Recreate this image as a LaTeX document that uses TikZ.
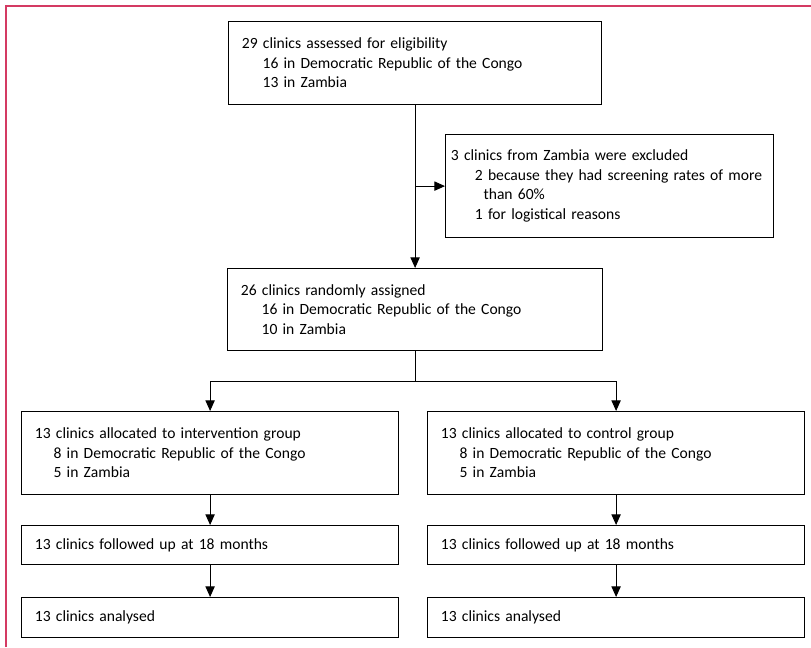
\documentclass[tikz,border=0pt]{standalone}
\usepackage{fontspec}
\setmainfont{Carlito}
\usetikzlibrary{arrows.meta}
\definecolor{framepink}{HTML}{D43A63}

\begin{document}
\begin{tikzpicture}[x=0.75pt, y=-0.75pt,
        box/.style = {draw, line width=0.9pt, anchor=north west, align=left, inner xsep=10pt, inner ysep=0pt,
                      font=\fontsize{11.7}{14.6}\selectfont},
        link/.style = {line width=0.7pt, -{Triangle[length=8pt, width=7pt]}}]
        \useasboundingbox (0,0) rectangle (811,647);
        \draw[framepink, line width=1.1pt] (6,647) -- (6,6) -- (811,6);
        \node[box, text width=259.75pt, minimum height=62.25pt] (assessed) at (228,21)
            {29 clinics assessed for eligibility\\\hspace*{15.5pt}16 in Democratic Republic of the Congo\\\hspace*{15.5pt}13 in Zambia};
        \node[box, inner xsep=4pt, text width=238pt, minimum height=77.25pt] (excluded) at (445,134)
            {3 clinics from Zambia were excluded\\\hspace*{18pt}2 because they had screening rates of more\\\hspace*{24.5pt}than 60\%\\\hspace*{18pt}1 for logistical reasons};
        \node[box, text width=261.25pt, minimum height=61.5pt] (assigned) at (227,268)
            {26 clinics randomly assigned\\\hspace*{15.5pt}16 in Democratic Republic of the Congo\\\hspace*{15.5pt}10 in Zambia};
        \node[box, text width=262.75pt, minimum height=62.25pt] (interv) at (21,411)
            {13 clinics allocated to intervention group\\\hspace*{14pt}8 in Democratic Republic of the Congo\\\hspace*{14pt}5 in Zambia};
        \node[box, text width=262.75pt, minimum height=62.25pt] (control) at (427,411)
            {13 clinics allocated to control group\\\hspace*{14pt}8 in Democratic Republic of the Congo\\\hspace*{14pt}5 in Zambia};
        \node[box, text width=262.75pt, minimum height=29.25pt] (followL) at (21,525) {13 clinics followed up at 18 months};
        \node[box, text width=262.75pt, minimum height=29.25pt] (followR) at (427,525) {13 clinics followed up at 18 months};
        \node[box, text width=262.75pt, minimum height=30pt] (analysedL) at (21,597) {13 clinics analysed};
        \node[box, text width=262.75pt, minimum height=30pt] (analysedR) at (427,597) {13 clinics analysed};
        \coordinate (split) at (assigned.south |- 0,381);
        \draw[link] (assessed.south) -- (assessed.south |- assigned.north);
        \draw[link] (assessed.south |- excluded.west) -- (excluded.west);
        \draw[line width=0.7pt] (assigned.south) -- (split);
        \draw[link] (split) -| (interv.north);
        \draw[link] (split) -| (control.north);
        \draw[link] (interv) -- (followL);
        \draw[link] (control) -- (followR);
        \draw[link] (followL) -- (analysedL);
        \draw[link] (followR) -- (analysedR);
    \end{tikzpicture}
\end{document}
